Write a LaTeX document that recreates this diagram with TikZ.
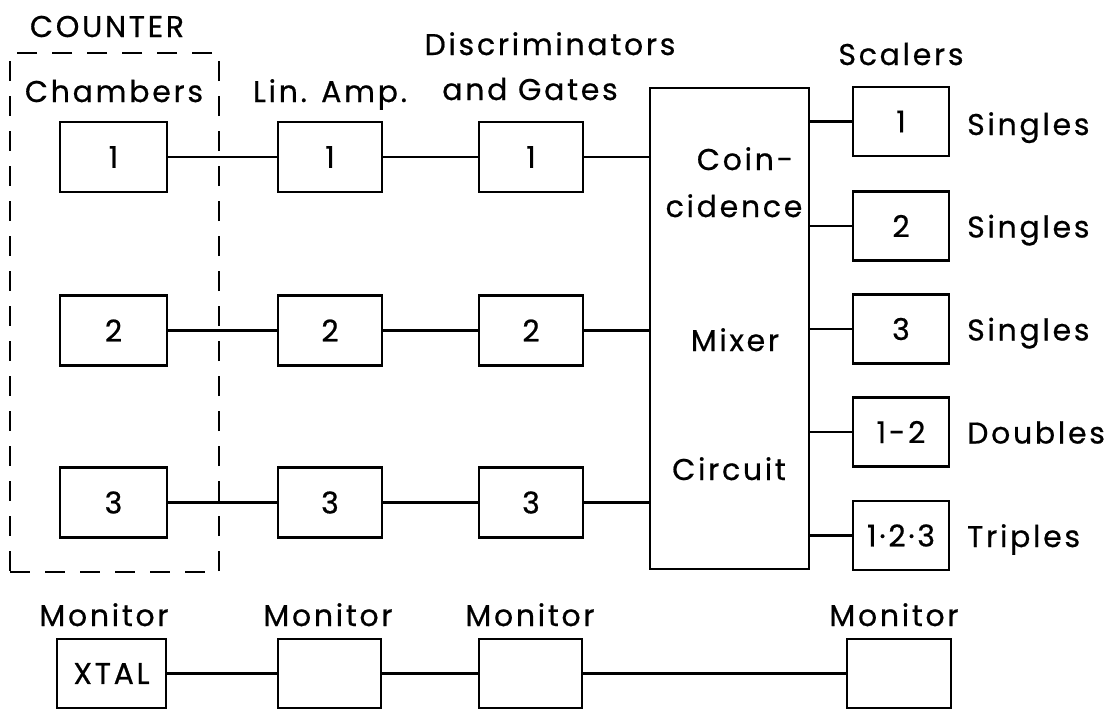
\documentclass[tikz,border=0pt]{standalone}
\usepackage{fontspec}
\setmainfont{Poppins}[LetterSpace=9,FakeBold=0.6]
\begin{document}
\begin{tikzpicture}[x=1pt,y=-1pt,
  txt/.style={font=\fontsize{30}{36}\selectfont, inner sep=0pt},
  blk/.style={draw, line width=2.2pt, minimum width=#1, minimum height=70pt, inner sep=0pt, txt},
  lbl/.style={txt, anchor=base},
  rlbl/.style={txt, anchor=base west},
  wire/.style={line width=2.4pt}]
\useasboundingbox (0,0) rectangle (1114,712);
% counter frame
\node[draw, line width=2pt, dash pattern=on 20pt off 15pt, minimum width=209pt, minimum height=519pt, inner sep=0pt] (cbox) at (114.5,312.5) {};
% headings
\node[lbl] (tcounter) at (107,37) {COUNTER};
\node[lbl] (tchamb) at (114,102) {Chambers};
\node[lbl] (tlin) at (330,102) {Lin. Amp.};
\node[lbl] (tdisc) at (550,55) {Discriminators};
\node[lbl] (tgates) at (530,100) {and Gates};
\node[lbl] (tscal) at (901,65) {Scalers};
% chambers
\node[blk=107pt] (c1) at (113.5,157) {1};
\node[blk=107pt] (c2) at (113.5,330.5) {2};
\node[blk=107pt] (c3) at (113.5,502.5) {3};
% lin amp
\node[blk=104pt] (a1) at (330,157) {1};
\node[blk=104pt] (a2) at (330,330.5) {2};
\node[blk=104pt] (a3) at (330,502.5) {3};
% discriminators
\node[blk=104pt] (d1) at (531,157) {1};
\node[blk=104pt] (d2) at (531,330.5) {2};
\node[blk=104pt] (d3) at (531,502.5) {3};
% mixer
\node[draw, line width=2.2pt, minimum width=159pt, minimum height=481pt, inner sep=0pt] (mix) at (729.5,328.5) {};
\node[lbl] (tcoin) at (745,170) {Coin-};
\node[lbl] (tcid) at (734,217) {cidence};
\node[lbl] (tmix) at (735,351) {Mixer};
\node[lbl] (tcirc) at (729,480) {Circuit};
% scalers
\node[blk=96pt, minimum height=69pt] (s1) at (901,121.5) {1};
\node[blk=96pt, minimum height=69pt] (s2) at (901,226) {2};
\node[blk=96pt, minimum height=69pt] (s3) at (901,329) {3};
\node[blk=96pt, minimum height=69pt] (s4) at (901,432) {1-2};
\node[blk=96pt, minimum height=69pt] (s5) at (901,535.5) {1·2·3};
\node[rlbl] (l1) at (967,135) {Singles};
\node[rlbl] (l2) at (967,237.5) {Singles};
\node[rlbl] (l3) at (967,340.5) {Singles};
\node[rlbl] (l4) at (967,443.5) {Doubles};
\node[rlbl] (l5) at (967,547) {Triples};
% monitors
\node[lbl] (tm1) at (104,626) {Monitor};
\node[lbl] (tm2) at (328,626) {Monitor};
\node[lbl] (tm3) at (530,626) {Monitor};
\node[lbl] (tm4) at (894,626) {Monitor};
\node[blk=109pt, minimum height=69pt] (m1) at (111.5,673.5) {XTAL};
\node[blk=103pt, minimum height=69pt] (m2) at (329.5,673.5) {};
\node[blk=103pt, minimum height=69pt] (m3) at (530.5,673.5) {};
\node[blk=104pt, minimum height=69pt] (m4) at (899,673.5) {};
% wires
\draw[wire] (c1) -- (a1);
\draw[wire] (a1) -- (d1);
\draw[wire] (d1.east) -- (d1.east -| mix.west);
\draw[wire] (c2) -- (a2);
\draw[wire] (a2) -- (d2);
\draw[wire] (d2.east) -- (d2.east -| mix.west);
\draw[wire] (c3) -- (a3);
\draw[wire] (a3) -- (d3);
\draw[wire] (d3.east) -- (d3.east -| mix.west);
\foreach \s in {s1,s2,s3,s4,s5}
  \draw[wire] (\s.west) -- (\s.west -| mix.east);
\draw[wire] (m1) -- (m2);
\draw[wire] (m2) -- (m3);
\draw[wire] (m3) -- (m4);
\end{tikzpicture}
\end{document}
